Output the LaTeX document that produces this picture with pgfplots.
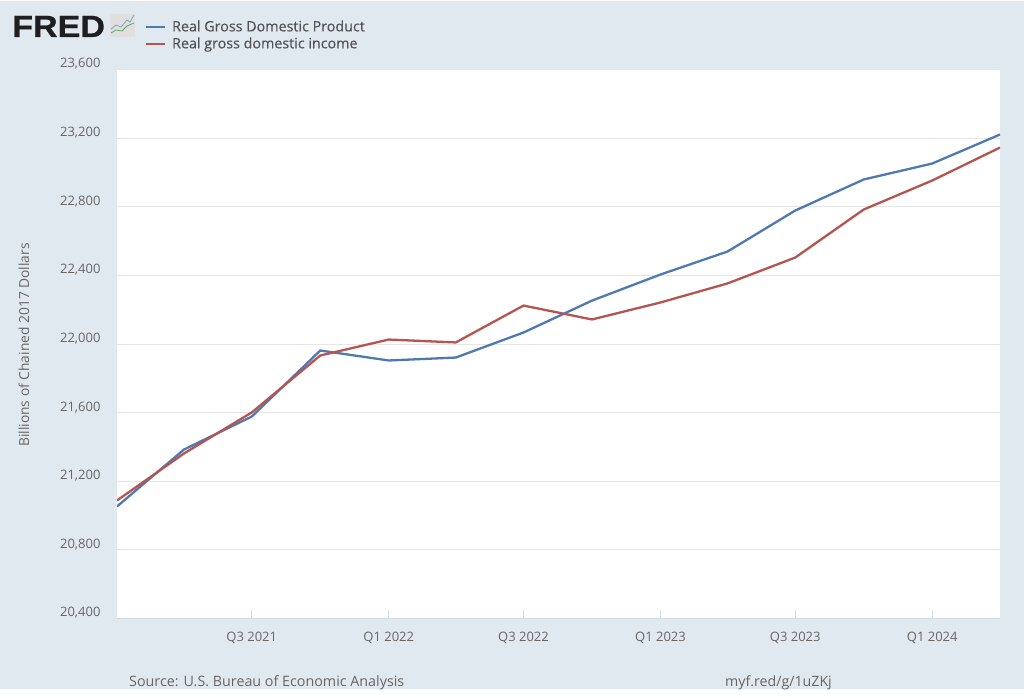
\documentclass[border=0pt]{standalone}
\usepackage{fontspec}
\setmainfont{Open Sans}
\newfontfamily\logofont[FakeBold=0.8]{Liberation Sans Bold}
\newfontfamily\legfont[FakeBold=0.25]{Open Sans}
\usepackage{pgfplots}
\pgfplotsset{compat=1.18}
\usepackage{pgfplotstable}
\definecolor{fredbg}{HTML}{E1E9F0}
\definecolor{fredtxt}{HTML}{666666}
\definecolor{fredgrid}{HTML}{E6E6E6}
\definecolor{fredtick}{HTML}{D0DCE8}
\definecolor{gdpblue}{HTML}{5079B0}
\definecolor{gdired}{HTML}{B45552}

% days since 2021-01-01, billions of chained 2017 dollars
\pgfplotstableread{
day   gdp    gdi
0     21053  21088
90    21385  21362
181   21577  21601
273   21962  21933
365   21904  22026
455   21921  22009
546   22067  22224
638   22253  22143
730   22405  22242
820   22539  22353
911   22778  22504
1003  22959  22784
1095  23052  22953
1186  23221  23145
}\fredtable

\begin{document}
\begin{tikzpicture}[x=1pt,y=1pt]
\path[use as bounding box] (0,0) rectangle (1024,697);
\fill[white] (0,0) rectangle (1024,697);
\fill[fredbg] (0,8) rectangle (1024,696);

\begin{axis}[
    at={(117pt,78.5pt)},
    anchor=origin,
    scale only axis,
    width=883pt,
    height=549pt,
    xmin=0, xmax=1186,
    ymin=20400, ymax=23600,
    axis background/.style={fill=white},
    axis line style={draw=none},
    axis x line*=bottom,
    axis y line*=left,
    xtick={181,365,546,730,911,1095},
    xticklabels={Q3 2021,Q1 2022,Q3 2022,Q1 2023,Q3 2023,Q1 2024},
    ytick={20400,20800,21200,21600,22000,22400,22800,23200,23600},
    scaled y ticks=false,
    ymajorgrids=true,
    grid style={fredgrid,line width=1pt},
    tick label style={font=\fontsize{13}{15}\selectfont,text=fredtxt},
    yticklabel style={xshift=-13pt,yshift=5.5pt,
        /pgf/number format/fixed,
        /pgf/number format/1000 sep={,},
        /pgf/number format/assume math mode=true},
    xticklabel style={yshift=-10pt},
    major tick length=9pt,
    tick style={draw=none},
    x tick style={draw=fredtick,line width=0.8pt},
    legend style={
        at={(0.0317,1.0929)},
        anchor=north west,
        draw=none,fill=none,
        inner sep=0pt,outer sep=0pt,
        font=\legfont\fontsize{14.3}{16}\selectfont\color{fredtxt!80!black},
        row sep=0.6pt,
        cells={anchor=west},
    },
    legend image code/.code={\draw[#1,line width=2pt] (0pt,0pt) -- (19pt,0pt); \path (23pt,0pt);},
    legend cell align=left,
]
\addplot[color=gdpblue,line width=2.3pt] table[x=day,y=gdp] {\fredtable};
\addlegendentry{Real Gross Domestic Product}
\addplot[color=gdired,line width=2.3pt] table[x=day,y=gdi] {\fredtable};
\addlegendentry{Real gross domestic income}
\end{axis}

\draw[fredtick,line width=0.8pt] (117,78.5) -- (1000,78.5);

% axis title and footer
\node[rotate=90,text=fredtxt,font=\fontsize{13.8}{15}\selectfont] at (24,352) {Billions of Chained 2017 Dollars};
\node[anchor=base west,inner sep=0,text=fredtxt,font=\fontsize{14.3}{16}\selectfont] at (129,11) {Source: U.S. Bureau of Economic Analysis};
\node[anchor=base west,inner sep=0,text=fredtxt,font=\fontsize{14.2}{16}\selectfont] at (725,11) {myf.red/g/1uZKj};

% logo
\node[anchor=base west,inner sep=0,text=black!88,xscale=1.11,font=\logofont\fontsize{30.7}{32}\selectfont] at (12,660) {FRED};
\fill[gray!25] (110,660) rectangle (135,683);
\draw[gdpblue!70,line width=0.8pt] (111,668) -- (116,672) -- (121,670) -- (127,677) -- (130,675) -- (134,682);
\draw[green!45!black!60,line width=0.8pt] (111,664) -- (116,667) -- (122,666) -- (127,671) -- (134,674);
\end{tikzpicture}
\end{document}
